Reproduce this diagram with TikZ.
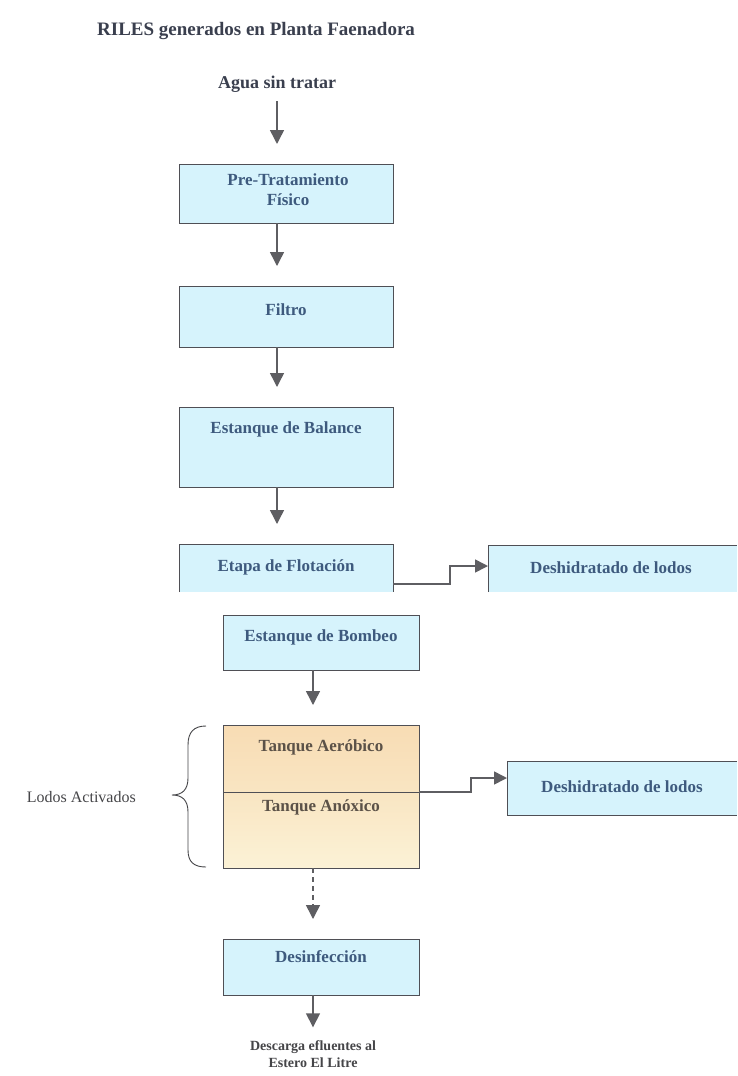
\documentclass[tikz,border=0pt]{standalone}
\usepackage{fontspec}
\setmainfont{Liberation Serif}
\usetikzlibrary{arrows.meta,calc}
\definecolor{boxfill}{HTML}{D6F3FC}
\definecolor{boxline}{HTML}{4F4F55}
\definecolor{txtblue}{HTML}{3E5A7E}
\definecolor{arrgray}{HTML}{5E5E62}
\definecolor{peachtop}{HTML}{F8DCB4}
\definecolor{peachmid}{HTML}{F9E5C2}
\definecolor{peachbot}{HTML}{FBF2D6}
\definecolor{tanktxt}{HTML}{5C5248}
\definecolor{titlecol}{HTML}{3A3F4E}
\definecolor{graytxt}{HTML}{454548}
\begin{document}
\begin{tikzpicture}[x=1pt,y=-1pt,
  boxbase/.style={inner sep=0pt, outer sep=0pt},
  box/.style={boxbase, fill=boxfill, draw=boxline, line width=1pt},
  openbox/.style={boxbase, fill=boxfill},
  boxedge/.style={draw=boxline, line width=1pt},
  wide/.style={minimum width=214pt},
  narrow/.style={minimum width=196pt},
  lbl/.style={font=\fontsize{17}{20}\selectfont\bfseries, text=txtblue, align=center, inner sep=0pt},
  tlbl/.style={font=\fontsize{17}{20}\selectfont\bfseries, text=tanktxt, inner sep=0pt},
  arr/.style={draw=arrgray, line width=1.5pt, -{Triangle[width=14pt,length=14pt]}, shorten >=20pt},
  conn/.style={draw=arrgray, line width=1.6pt, -{Triangle[width=13pt,length=13pt]}},
]
\useasboundingbox[fill=white] (0,0) rectangle (737,1076);

% title and input
\node[anchor=west, inner sep=0pt, font=\fontsize{19}{22}\selectfont\bfseries, text=titlecol] (title) at (97,31) {RILES generados en Planta Faenadora};
\node[inner sep=0pt, font=\fontsize{18}{21}\selectfont\bfseries, text=titlecol] (agua) at (277,84) {Agua sin tratar};

% upper boxes
\node[box, wide, minimum height=59pt] (pre) at (286,193.5) {};
\node[lbl] (pretxt) at (288,190) {Pre-Tratamiento\\Físico};
\node[box, wide, minimum height=61pt] (fil) at (286,316.5) {};
\node[lbl] (filtxt) at (286,310) {Filtro};
\node[box, wide, minimum height=80pt] (bal) at (286,447) {};
\node[lbl] (baltxt) at ($(bal.north)+(0,22)$) {Estanque de Balance};
\node[openbox, wide, minimum height=48pt] (eta) at (286,568) {};
\draw[boxedge] (eta.south west) -- (eta.north west) -- (eta.north east) -- (eta.south east);
\node[lbl] (etatxt) at (286,567) {Etapa de Flotación};

\node[openbox, minimum width=249pt, minimum height=47pt] (d1) at (612.5,568.5) {};
\draw[boxedge] (d1.south west) -- (d1.north west) -- (d1.north east);
\node[lbl] (d1txt) at (611,568) {Deshidratado de lodos};

% lower boxes
\node[box, narrow, minimum height=55pt] (bom) at (321,642.5) {};
\node[lbl] (bomtxt) at (321,637) {Estanque de Bombeo};

\node[boxbase, narrow, minimum height=67pt, top color=peachtop, bottom color=peachmid] (aer) at (321,758.5) {};
\node[boxbase, narrow, minimum height=76pt, top color=peachmid, bottom color=peachbot] (anx) at (321,830) {};
\draw[boxedge] (aer.north west) rectangle (anx.south east);
\draw[boxedge] (aer.south west) -- (aer.south east);
\node[tlbl] (aertxt) at (321,747) {Tanque Aeróbico};
\node[tlbl] (anxtxt) at (321,807) {Tanque Anóxico};

\node[openbox, minimum width=230pt, minimum height=54pt] (d2) at (622,788) {};
\draw[boxedge] (d2.north east) -- (d2.north west) -- (d2.south west) -- (d2.south east);
\node[lbl] (d2txt) at (622,787) {Deshidratado de lodos};

\node[box, narrow, minimum height=56pt] (des) at (321,967) {};
\node[lbl] (destxt) at (321,957) {Desinfección};

\node[align=center, inner sep=0pt, font=\fontsize{14}{17}\selectfont\bfseries, text=graytxt] (desc) at (313,1054) {Descarga efluentes al\\Estero El Litre};

% brace and side label
\draw[draw=graytxt, line width=0.9pt] (206,726) .. controls (194,726) and (188,732) .. (188,745)
  -- (188,778) .. controls (188,790) and (182,795) .. (172,795)
  .. controls (182,795) and (188,800) .. (188,812)
  -- (188,850) .. controls (188,862) and (194,867) .. (206,867);
\node[anchor=east, inner sep=0pt, font=\fontsize{16}{19}\selectfont, text=graytxt] (lodos) at (136,797) {Lodos Activados};

% connectors
\draw[arr] ([yshift=-9pt]agua.south) -- ([xshift=-9pt]pre.north);
\draw[arr] ([xshift=-9pt]pre.south) -- ([xshift=-9pt]fil.north);
\draw[arr] ([xshift=-9pt]fil.south) -- ([xshift=-9pt]bal.north);
\draw[arr] ([xshift=-9pt]bal.south) -- ([xshift=-9pt]eta.north);
\draw[conn] ([yshift=-16pt]eta.east) -- ++(57,0) |- ([yshift=2.5pt]d1.west);
\draw[arr] ([xshift=-8pt]bom.south) -- ([xshift=-8pt]aer.north);
\draw[conn] (aer.south east) -- ++(52,0) |- ([yshift=10pt]d2.west);
\draw[arr, dash pattern=on 5pt off 4pt] ([xshift=-8pt]anx.south) -- ([xshift=-8pt]des.north);
\draw[arr, shorten >=13pt] ([xshift=-8pt]des.south) -- ([xshift=0pt]desc.north);
\end{tikzpicture}
\end{document}
